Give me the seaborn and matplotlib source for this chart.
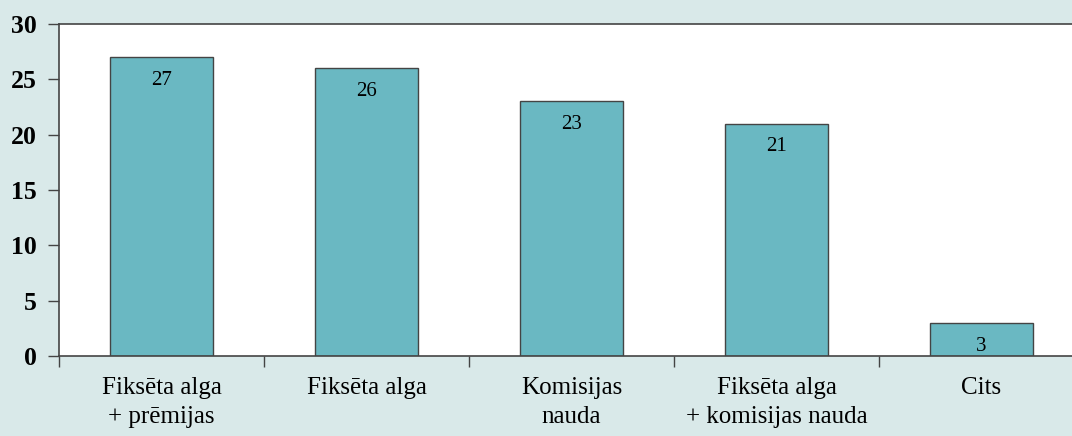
import numpy as np
import pandas as pd
import matplotlib.pyplot as plt
import seaborn as sns
from matplotlib.ticker import FixedLocator

categories = ["Fiksēta alga\n+ prēmijas", "Fiksēta alga", "Komisijas\nnauda",
              "Fiksēta alga\n+ komisijas nauda", "Cits"]
values = [27, 26, 23, 21, 3]
yticks = [0, 5, 10, 15, 20, 25, 30]

bg = "#d9e9e9"
bar_color = "#6ab8c2"

sns.set_style("white")
plt.rcParams["font.family"] = ["Liberation Serif", "DejaVu Serif"]
plt.rcParams["text.color"] = "black"
plt.rcParams["xtick.labelcolor"] = "black"
plt.rcParams["ytick.labelcolor"] = "black"

df = pd.DataFrame({"cat": categories, "val": values})

fig = plt.figure(figsize=(10.72, 4.36), dpi=100, facecolor=bg)
ax = fig.add_axes([59 / 1072, 80 / 436, 1013 / 1072, 332 / 436])
sns.barplot(data=df, x="cat", y="val", color=bar_color, saturation=1,
            width=0.5, edgecolor="#444444", linewidth=1, ax=ax)

ax.set_xlim(-0.5, -0.5 + 1013 / 205)
ax.set_ylim(0, 30)
ax.set_yticks(yticks)
ax.set_xlabel("")
ax.set_ylabel("")

# value labels inside the bars
for i, v in enumerate(values):
    ax.text(i, v - 2.1, str(v), ha="center", va="center", fontsize=15,
            color="black")

ax.xaxis.set_minor_locator(FixedLocator(np.arange(-0.5, 5, 1)))
ax.tick_params(axis="x", which="major", length=0, pad=15, labelsize=18)
ax.tick_params(axis="x", which="minor", length=8, width=1, color="#444444",
               direction="out", bottom=True)
ax.tick_params(axis="y", length=8, width=1, color="#444444", direction="out",
               left=True, labelsize=18.5, pad=8)
for lbl in ax.get_xticklabels():
    lbl.set_linespacing(1.4)
for lbl in ax.get_yticklabels():
    lbl.set_fontweight("bold")

for s in ["left", "top", "bottom"]:
    ax.spines[s].set_color("#444444")
    ax.spines[s].set_linewidth(1.2)
ax.spines["right"].set_visible(False)

fig.savefig("out.png", dpi=100, facecolor=bg)
